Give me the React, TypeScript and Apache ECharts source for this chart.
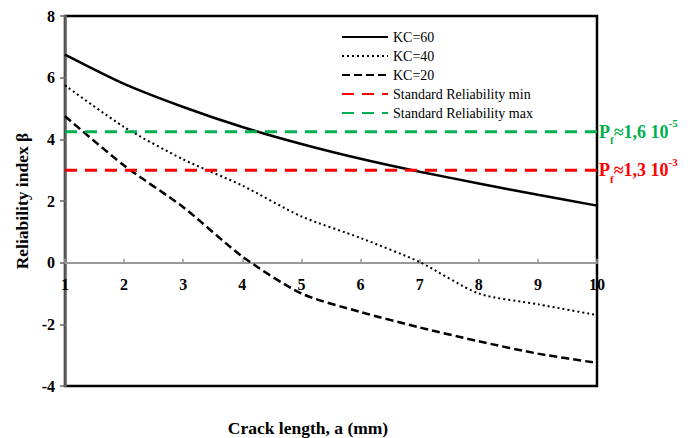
import React, { useEffect, useRef } from "react";
import * as echarts from "echarts";

const crackLength = [1, 2, 3, 4, 5, 6, 7, 8, 9, 10];
const kc60 = [6.75, 5.8, 5.05, 4.4, 3.85, 3.37, 2.95, 2.57, 2.2, 1.85];
const kc40 = [5.75, 4.4, 3.35, 2.5, 1.5, 0.8, 0.02, -1.0, -1.35, -1.7];
const kc20 = [4.75, 3.15, 1.8, 0.2, -1.0, -1.6, -2.1, -2.55, -2.95, -3.25];
const reliabilityMin = 3;
const reliabilityMax = 4.25;
const seriesNames = ["KC=60", "KC=40", "KC=20", "Standard Reliability min", "Standard Reliability max"];
const yTicks = { min: -4, max: 8, interval: 2 };

const FONT = "'Liberation Serif', 'Times New Roman', serif";

function pfRich(color: string) {
  const base = { fontFamily: FONT, fontWeight: "bold", color, lineHeight: 24 };
  return {
    p: { ...base, fontSize: 18 },
    s: { ...base, fontSize: 11, verticalAlign: "bottom", lineHeight: 20 },
    m: { ...base, fontSize: 18 },
    u: { ...base, fontSize: 11, verticalAlign: "top", lineHeight: 28 },
  };
}

export default function App() {
  const ref = useRef<HTMLDivElement>(null);
  useEffect(() => {
    if (!ref.current) return;
    const chart = echarts.init(ref.current, null, { renderer: "svg" });
    const pair = (arr: number[]) => arr.map((v, i) => [crackLength[i], v]);
    const xFirst = crackLength[0];
    const xLast = crackLength[crackLength.length - 1];
    chart.setOption({
      animation: false,
      grid: {
        left: 65,
        right: 103,
        top: 16,
        bottom: 52,
        show: true,
        borderColor: "#000",
        borderWidth: 2.5,
        backgroundColor: "transparent",
        containLabel: false,
        outerBoundsMode: "none",
      },
      legend: {
        orient: "vertical",
        left: 336,
        top: 25,
        itemWidth: 46,
        itemHeight: 14,
        itemGap: 5,
        itemStyle: { opacity: 0 },
        textStyle: { fontFamily: FONT, fontSize: 14, color: "#000" },
        data: seriesNames,
      },
      xAxis: {
        type: "value",
        min: 1,
        max: 10,
        interval: 1,
        name: "Crack length, a (mm)",
        nameLocation: "middle",
        nameGap: 33,
        nameMoveOverlap: false,
        nameTextStyle: {
          fontFamily: FONT,
          fontSize: 17.5,
          fontWeight: "bold",
          color: "#000",
          padding: [0, 46, 0, 0],
        },
        axisLine: { onZero: true, lineStyle: { color: "#999", width: 2 } },
        axisTick: { show: true, inside: true, length: 4, lineStyle: { color: "#999", width: 1.5 } },
        axisLabel: {
          margin: -110,
          fontFamily: FONT,
          fontSize: 16,
          fontWeight: "bold",
          color: "#000",
        },
        splitLine: { show: false },
      },
      yAxis: {
        type: "value",
        min: yTicks.min,
        max: yTicks.max,
        interval: yTicks.interval,
        name: "Reliability index β",
        nameLocation: "middle",
        nameGap: 34,
        nameTextStyle: {
          fontFamily: FONT,
          fontSize: 17.5,
          fontWeight: "bold",
          color: "#000",
        },
        axisLine: { show: true, lineStyle: { color: "#666", width: 2.5 } },
        axisTick: { show: true, length: 5, lineStyle: { color: "#666", width: 1.5 } },
        axisLabel: {
          margin: 10,
          fontFamily: FONT,
          fontSize: 16,
          fontWeight: "bold",
          color: "#000",
        },
        splitLine: { show: false },
      },
      series: [
        {
          name: seriesNames[0],
          type: "line",
          data: pair(kc60),
          symbol: "none",
          smooth: 0.25,
          lineStyle: { color: "#000", width: 2.5, type: "solid" },
          itemStyle: { color: "#000" },
        },
        {
          name: seriesNames[1],
          type: "line",
          data: pair(kc40),
          symbol: "none",
          smooth: 0.25,
          lineStyle: { color: "#000", width: 2, type: [2, 3] },
          itemStyle: { color: "#000" },
        },
        {
          name: seriesNames[2],
          type: "line",
          data: pair(kc20),
          symbol: "none",
          smooth: 0.25,
          lineStyle: { color: "#000", width: 2.5, type: [8, 4] },
          itemStyle: { color: "#000" },
        },
        {
          name: seriesNames[3],
          type: "line",
          data: [
            [xFirst, reliabilityMin],
            [xLast, reliabilityMin],
          ],
          symbol: "none",
          lineStyle: { color: "#ff0000", width: 3, type: [12, 8] },
          itemStyle: { color: "#ff0000" },
          endLabel: {
            show: true,
            distance: 2,
            formatter: "{p|P}{s|f}{m|≈1,3 10}{u|-3}",
            rich: pfRich("#ff0000"),
          },
        },
        {
          name: seriesNames[4],
          type: "line",
          data: [
            [xFirst, reliabilityMax],
            [xLast, reliabilityMax],
          ],
          symbol: "none",
          lineStyle: { color: "#00b050", width: 3, type: [12, 8] },
          itemStyle: { color: "#00b050" },
          endLabel: {
            show: true,
            distance: 2,
            formatter: "{p|P}{s|f}{m|≈1,6 10}{u|-5}",
            rich: pfRich("#00b050"),
          },
        },
      ],
    });
    return () => chart.dispose();
  }, []);
  return <div ref={ref} style={{ width: 700, height: 438, position: "absolute", left: 0, top: 0 }} />;
}
